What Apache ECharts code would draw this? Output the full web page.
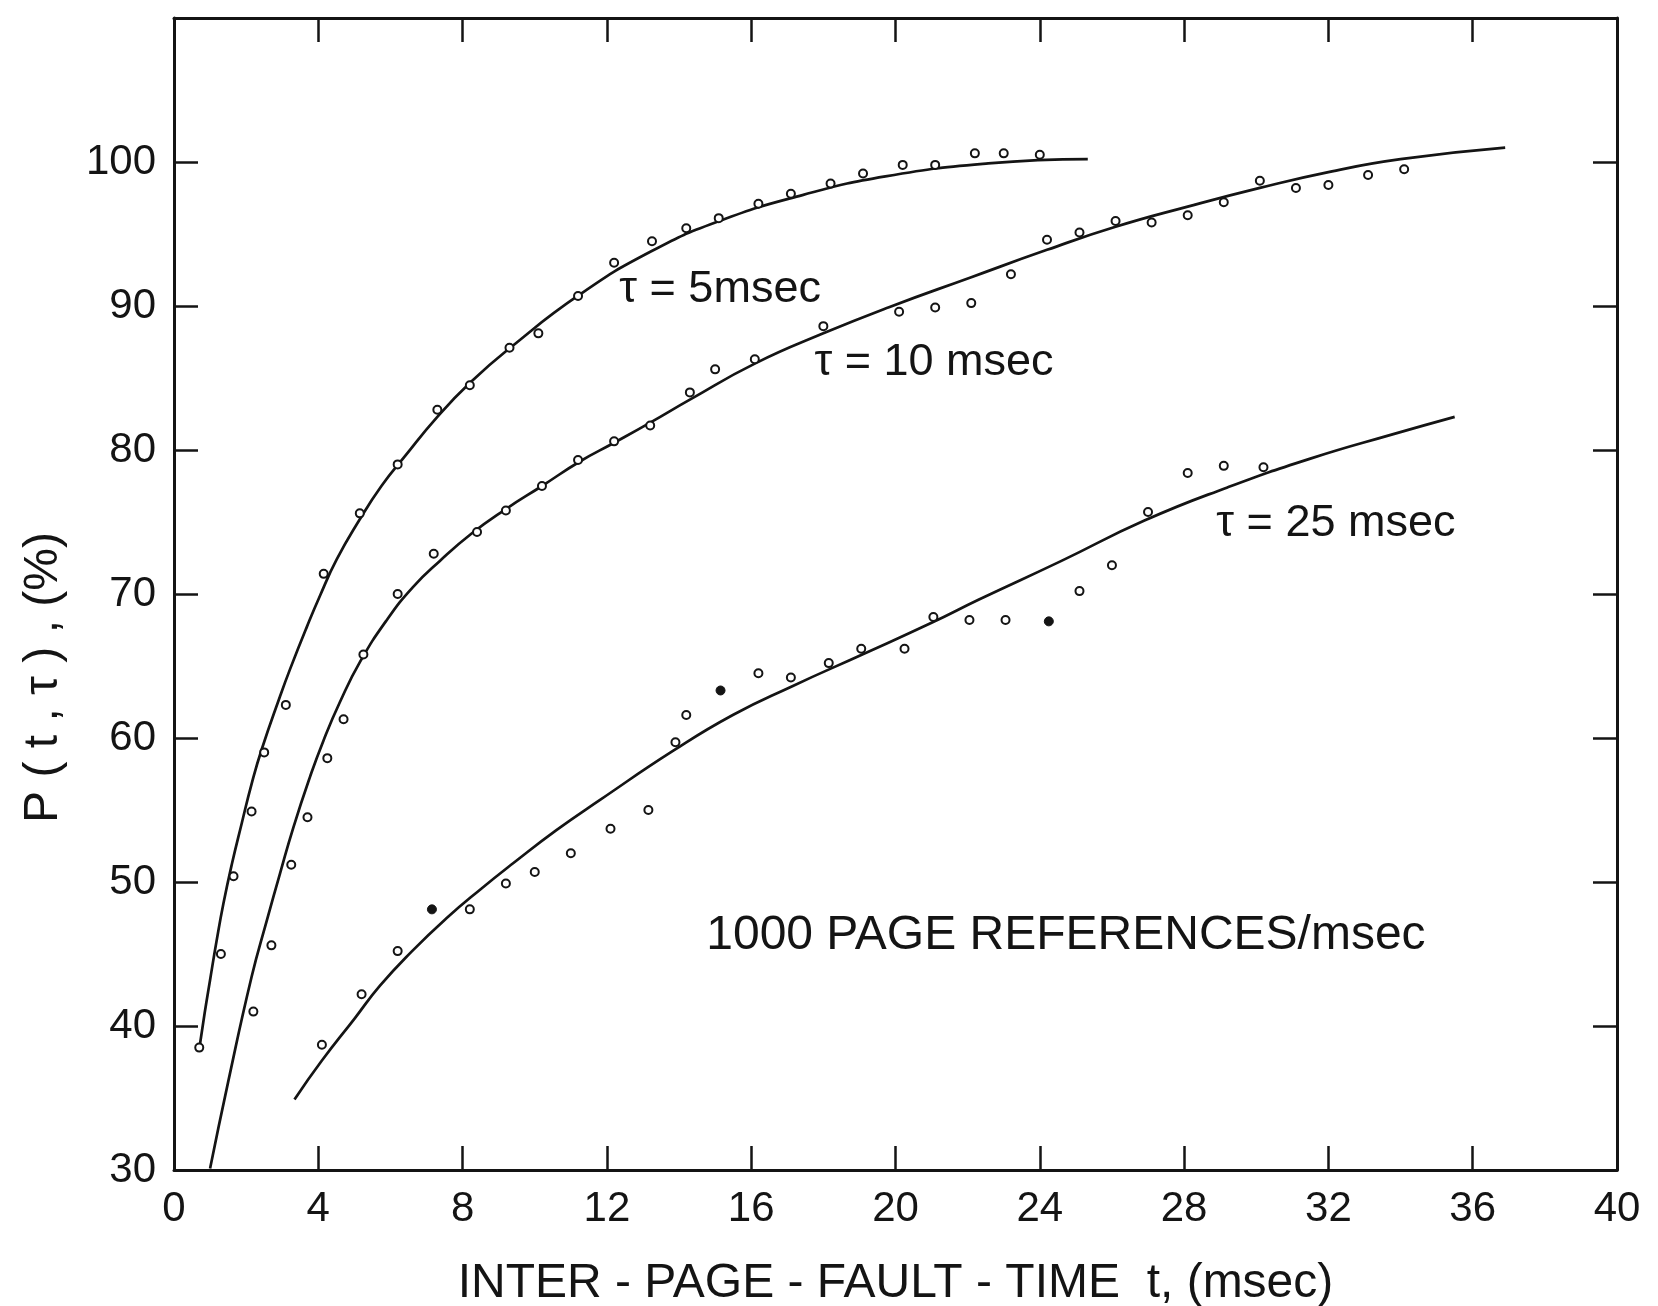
<!DOCTYPE html>
<html>
<head>
<meta charset="utf-8">
<script src="https://cdn.jsdelivr.net/npm/echarts@6/dist/echarts.min.js"></script>
<style>
html,body{margin:0;padding:0;background:#fff;}
#chart{width:1658px;height:1306px;}
</style>
</head>
<body>
<div id="chart"></div>
<script>
// ---- data ----
const xTickValues = [0, 4, 8, 12, 16, 20, 24, 28, 32, 36, 40];
const yTickValues = [30, 40, 50, 60, 70, 80, 90, 100];

// fitted curves
const curveTau5 = [[0.7,38.4],[0.85,40.9],[1.0,43.2],[1.18,45.9],[1.37,48.5],[1.6,51.2],[1.88,54.1],[2.15,56.8],[2.43,59.2],[2.94,62.9],[3.22,64.8],[3.68,67.7],[4.05,69.9],[4.51,72.4],[5.13,75.1],[5.75,77.5],[6.38,79.5],[7.3,82.3],[8.22,84.7],[9.32,87.1],[11.25,90.8],[13.23,93.8],[15.12,95.9],[17.42,97.7],[19.72,99.0],[22.57,99.9],[25.33,100.2]];
const curveTau10 = [[1.0,30.1],[1.5,36.1],[2.15,43.4],[2.57,47.3],[2.94,50.6],[3.31,53.8],[3.77,57.3],[4.14,59.8],[4.6,62.5],[5.16,65.3],[5.9,68.2],[6.63,70.5],[7.37,72.3],[8.25,74.2],[9.2,75.9],[10.2,77.5],[11.25,79.2],[12.2,80.5],[13.2,81.9],[14.3,83.5],[16.1,86.0],[18.0,88.1],[19.8,89.9],[22.1,92.0],[24.2,93.9],[26.1,95.5],[28.1,96.9],[30.1,98.2],[32.0,99.3],[34.0,100.2],[36.9,101.0]];
const curveTau25 = [[3.34,34.9],[4.1,37.6],[5.0,40.5],[5.71,42.8],[6.6,45.2],[7.56,47.5],[8.5,49.5],[9.4,51.3],[10.6,53.6],[11.81,55.7],[13.83,59.1],[15.49,61.6],[17.14,63.6],[19.08,65.8],[21.0,68.0],[22.3,69.6],[24.6,72.3],[26.9,75.1],[29.2,77.4],[31.5,79.4],[33.8,81.1],[35.5,82.3]];

// measured points
const pointsTau5 = [[0.7,38.5],[1.3,45.0],[1.65,50.4],[2.15,54.9],[2.5,59.0],[3.1,62.3],[4.15,71.4],[5.15,75.6],[6.2,79.0],[7.3,82.8],[8.2,84.5],[9.3,87.1],[10.1,88.1],[11.2,90.7],[12.2,93.0],[13.25,94.5],[14.2,95.4],[15.1,96.1],[16.2,97.1],[17.1,97.8],[18.2,98.5],[19.1,99.2],[20.2,99.8],[21.1,99.8],[22.2,100.6],[23.0,100.6],[24.0,100.5]];
const pointsTau10 = [[2.2,41.0],[2.7,45.6],[3.25,51.2],[3.7,54.5],[4.25,58.6],[4.7,61.3],[5.25,65.8],[6.2,70.0],[7.2,72.8],[8.4,74.3],[9.2,75.8],[10.2,77.5],[11.2,79.3],[12.2,80.6],[13.2,81.7],[14.3,84.0],[15.0,85.6],[16.1,86.3],[18.0,88.6],[20.1,89.6],[21.1,89.9],[22.1,90.2],[23.2,92.2],[24.2,94.6],[25.1,95.1],[26.1,95.9],[27.1,95.8],[28.1,96.3],[29.1,97.2],[30.1,98.7],[31.1,98.2],[32.0,98.4],[33.1,99.1],[34.1,99.5]];
const pointsTau25 = [[4.1,38.7],[5.2,42.2],[6.2,45.2],[8.2,48.1],[9.2,49.9],[10.0,50.7],[11.0,52.0],[12.1,53.7],[13.15,55.0],[13.9,59.7],[14.2,61.6],[16.2,64.5],[17.1,64.2],[18.15,65.2],[19.05,66.2],[20.25,66.2],[21.05,68.4],[22.05,68.2],[23.05,68.2],[25.1,70.2],[26.0,72.0],[27.0,75.7],[28.1,78.4],[29.1,78.9],[30.2,78.8]];
const filledTau25 = [[7.15,48.1],[15.15,63.3],[24.25,68.1]];

// text annotations: [x, y, text]
const annotations = [
  [12.33, 91.15, 'τ = 5msec'],
  [17.74, 86.1, 'τ = 10 msec'],
  [28.88, 74.9, 'τ = 25 msec'],
  [14.74, 46.25, '1000 PAGE REFERENCES/msec']
];
const annotationSizes = [45, 45, 45, 48];

const xTitle = 'INTER - PAGE - FAULT - TIME  t, (msec)';
const yTitle = 'P ( t , τ ) , (%)';

// ---- chart ----
const INK = '#141414';
const FONT = 'Liberation Sans';
const chart = echarts.init(document.getElementById('chart'), null, {renderer: 'canvas'});

function axisCommon() {
  return {
    axisLine: {show: true, onZero: false, lineStyle: {color: INK, width: 3}},
    axisTick: {show: true, inside: true, length: 24, lineStyle: {color: INK, width: 2.5}},
    splitLine: {show: false},
    axisLabel: {show: false}
  };
}

function curveSeries(data) {
  return {type: 'line', data: data, smooth: 0.5, showSymbol: false, symbol: 'none',
    lineStyle: {color: INK, width: 2.7}, z: 3, silent: true};
}
function pointSeries(data) {
  return {type: 'scatter', data: data, symbol: 'circle', symbolSize: 8,
    itemStyle: {color: '#fff', borderColor: INK, borderWidth: 2, opacity: 1}, z: 4, silent: true};
}

chart.setOption({
  animation: false,
  backgroundColor: '#fff',
  grid: {left: 174, right: 41, top: 18, bottom: 136, containLabel: false, outerBoundsMode: 'none'},
  xAxis: [
    Object.assign({type: 'value', min: 0, max: 40, interval: 4, position: 'bottom',
      name: xTitle, nameLocation: 'middle', nameGap: 90,
      nameTextStyle: {fontFamily: FONT, fontSize: 48, color: INK}}, axisCommon(), {
      axisLabel: {show: true, margin: 18, fontFamily: FONT, fontSize: 42, color: INK,
        formatter: v => xTickValues.includes(v) ? String(v) : ''}
    }),
    Object.assign({type: 'value', min: 0, max: 40, interval: 4, position: 'top'}, axisCommon())
  ],
  yAxis: [
    Object.assign({type: 'value', min: 30, max: 110, interval: 10, position: 'left'}, axisCommon(), {
      axisLabel: {show: true, margin: 18, fontFamily: FONT, fontSize: 42, color: INK,
        formatter: v => yTickValues.includes(v) ? String(v) : ''}
    }),
    Object.assign({type: 'value', min: 30, max: 110, interval: 10, position: 'right'}, axisCommon())
  ],
  graphic: [{
    type: 'text', left: 20, top: 682 - 150, rotation: Math.PI / 2,
    style: {text: yTitle, font: '48px "Liberation Sans"', fill: INK}
  }],
  series: [
    curveSeries(curveTau5),
    curveSeries(curveTau10),
    curveSeries(curveTau25),
    pointSeries(pointsTau5),
    pointSeries(pointsTau10),
    pointSeries(pointsTau25),
    {type: 'scatter', data: filledTau25, symbol: 'circle', symbolSize: 9,
      itemStyle: {color: INK, borderColor: INK, borderWidth: 1, opacity: 1}, z: 5, silent: true},
    {type: 'scatter', silent: true, symbolSize: 1, z: 6,
      itemStyle: {opacity: 0},
      data: annotations.map((a, i) => ({value: [a[0], a[1]], name: a[2],
        label: {show: true, position: 'right', distance: 0, align: 'left', verticalAlign: 'middle',
          formatter: a[2], fontFamily: FONT, fontSize: annotationSizes[i], color: INK, opacity: 1}}))
    }
  ]
});
</script>
</body>
</html>
